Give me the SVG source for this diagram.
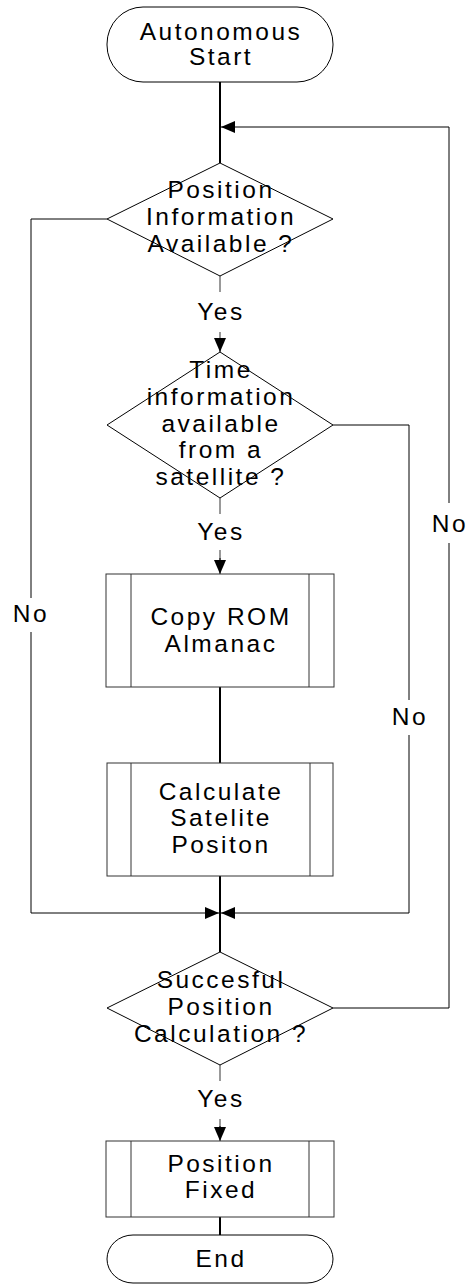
<svg xmlns="http://www.w3.org/2000/svg" width="469" height="1286" viewBox="0 0 469 1286">
<defs>
<style>
.t{font-family:"Liberation Sans",Arial,sans-serif;font-size:24.5px;letter-spacing:2.5px;fill:#000;text-anchor:middle}
.shape{fill:#fff;stroke:#000;stroke-width:1}
.box{fill:#fff;stroke:#333;stroke-width:1}
.main{fill:none;stroke:#000;stroke-width:2}
.side{fill:none;stroke:#000;stroke-width:1}
.stub{fill:none;stroke:#777;stroke-width:1.5}
</style>
<marker id="ah" viewBox="0 0 14 12" refX="14" refY="6" markerWidth="14" markerHeight="12" markerUnits="userSpaceOnUse" orient="auto">
<path d="M0,0 L14,6 L0,12 z" fill="#000"/>
</marker>
</defs>
<rect width="469" height="1286" fill="#fff"/>
<g id="connectors">
<line class="main" x1="220" y1="82" x2="220" y2="163"/>
<line class="stub" x1="220" y1="276" x2="220" y2="292"/>
<line class="stub" x1="220" y1="332" x2="220" y2="340"/>
<line class="side" x1="220" y1="338" x2="220" y2="352" marker-end="url(#ah)"/>
<line class="stub" x1="220" y1="498" x2="220" y2="514"/>
<line class="stub" x1="220" y1="550" x2="220" y2="560"/>
<line class="side" x1="220" y1="558" x2="220" y2="574" marker-end="url(#ah)"/>
<line class="main" x1="220" y1="687" x2="220" y2="763"/>
<line class="main" x1="220" y1="876" x2="220" y2="952"/>
<line class="stub" x1="220" y1="1065" x2="220" y2="1081"/>
<line class="stub" x1="220" y1="1119" x2="220" y2="1128"/>
<line class="side" x1="220" y1="1126" x2="220" y2="1141" marker-end="url(#ah)"/>
<line class="main" x1="220" y1="1217" x2="220" y2="1235"/>
<polyline class="side" points="107,219 31,219 31,598"/>
<polyline class="side" points="31,632 31,913 219,913" marker-end="url(#ah)"/>
<polyline class="side" points="333,425 409,425 409,700"/>
<polyline class="side" points="409,735 409,913 221,913" marker-end="url(#ah)"/>
<polyline class="side" points="333,1008 449,1008 449,543"/>
<polyline class="side" points="449,503 449,127 221,127" marker-end="url(#ah)"/>
<text class="t" x="221" y="320">Yes</text>
<text class="t" x="221" y="540">Yes</text>
<text class="t" x="221" y="1107">Yes</text>
<text class="t" x="31" y="622">No</text>
<text class="t" x="410" y="725">No</text>
<text class="t" x="450" y="532">No</text>
</g>
<g id="start">
<rect class="shape" x="107" y="7" width="226" height="75" rx="36" ry="37"/>
<text class="t" x="221" y="40">Autonomous</text>
<text class="t" x="221" y="65">Start</text>
</g>
<g id="d1">
<polygon class="shape" points="220,163 333,219 220,276 107,219"/>
<text class="t" x="221" y="198">Position</text>
<text class="t" x="221" y="225">Information</text>
<text class="t" x="221" y="252">Available ?</text>
</g>
<g id="d2">
<polygon class="shape" points="220,352 333,425 220,498 107,425"/>
<text class="t" x="221" y="378">Time</text>
<text class="t" x="221" y="405">information</text>
<text class="t" x="221" y="432">available</text>
<text class="t" x="221" y="458">from a</text>
<text class="t" x="221" y="485">satellite ?</text>
</g>
<g id="copy">
<rect class="box" x="106" y="574" width="228" height="113"/>
<line class="box" x1="131" y1="574" x2="131" y2="687"/>
<line class="box" x1="309" y1="574" x2="309" y2="687"/>
<text class="t" x="221" y="625">Copy ROM</text>
<text class="t" x="221" y="652">Almanac</text>
</g>
<g id="calc">
<rect class="box" x="107" y="763" width="226" height="113"/>
<line class="box" x1="131" y1="763" x2="131" y2="876"/>
<line class="box" x1="310" y1="763" x2="310" y2="876"/>
<text class="t" x="221" y="800">Calculate</text>
<text class="t" x="221" y="826">Satelite</text>
<text class="t" x="221" y="853">Positon</text>
</g>
<g id="d3">
<polygon class="shape" points="220,952 333,1008 220,1065 107,1008"/>
<text class="t" x="221" y="988">Succesful</text>
<text class="t" x="221" y="1015">Position</text>
<text class="t" x="221" y="1042">Calculation ?</text>
</g>
<g id="fixed">
<rect class="box" x="106" y="1141" width="228" height="76"/>
<line class="box" x1="131" y1="1141" x2="131" y2="1217"/>
<line class="box" x1="309" y1="1141" x2="309" y2="1217"/>
<text class="t" x="221" y="1172">Position</text>
<text class="t" x="221" y="1198">Fixed</text>
</g>
<g id="end">
<rect class="shape" x="107" y="1235" width="226" height="48" rx="26" ry="24"/>
<text class="t" x="221" y="1267">End</text>
</g>
</svg>
